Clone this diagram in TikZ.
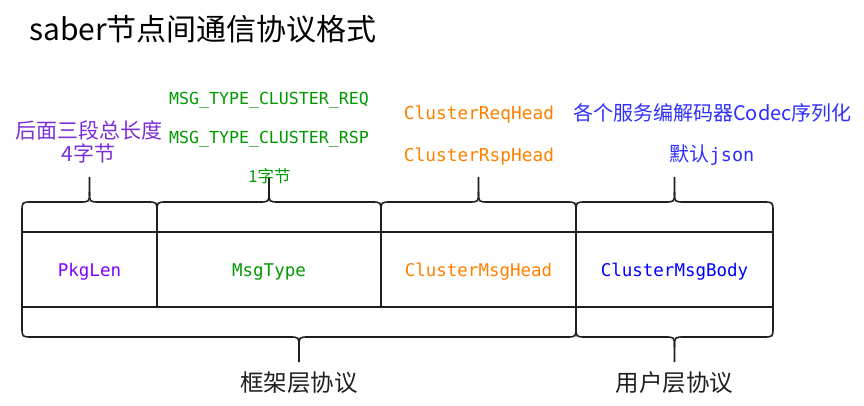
\documentclass[tikz,border=0pt]{standalone}
\usepackage{fontspec}
\setmainfont{Noto Sans CJK SC}
\setmonofont{DejaVu Sans Mono}
\definecolor{cpurple}{HTML}{8000FF}
\definecolor{cpurpletop}{HTML}{7B2FD9}
\definecolor{cgreen}{HTML}{009900}
\definecolor{corange}{HTML}{FF8000}
\definecolor{cblue}{HTML}{0000FF}
\definecolor{cbluetop}{HTML}{2E2EFF}
\definecolor{cline}{HTML}{1F1F1F}
\newcommand\fsz[1]{\fontsize{#1}{#1}\selectfont}
% top brace: left x, right x, tip x
\newcommand\mytopbrace[3]{%
  \draw[bracestyle] (#1,232) -- (#1,212) .. controls (#1,202) .. (#1+10,202) -- (#3-10,202) .. controls (#3,202) .. (#3,192) -- (#3,177);
  \draw[bracestyle] (#2,232) -- (#2,212) .. controls (#2,202) .. (#2-10,202) -- (#3+10,202) .. controls (#3,202) .. (#3,192);}
% bottom brace: left x, right x, tip x
\newcommand\mybottombrace[3]{%
  \draw[bracestyle] (#1,307) -- (#1,327) .. controls (#1,337) .. (#1+10,337) -- (#3-10,337) .. controls (#3,337) .. (#3,347) -- (#3,362);
  \draw[bracestyle] (#2,307) -- (#2,327) .. controls (#2,337) .. (#2-10,337) -- (#3+10,337) .. controls (#3,337) .. (#3,347);}
\begin{document}
\begin{tikzpicture}[x=1pt,y=-1pt,
  cell/.style={draw=cline, line width=1.6pt, minimum height=75pt, inner sep=0pt,
    text height=14.4pt, text depth=0pt, font=\ttfamily\fsz{17.5}},
  lbl/.style={anchor=base, inner sep=0pt},
  bracestyle/.style={draw=cline, line width=1.6pt}]
\useasboundingbox (0,0) rectangle (864,406);

% braces
\mytopbrace{22}{157}{89.5}
\mytopbrace{157}{381}{269}
\mytopbrace{381}{576}{478.5}
\mytopbrace{576}{773}{674.5}
\mybottombrace{22}{576}{299}
\mybottombrace{576}{773}{674.5}

% cells
\node[cell, minimum width=135pt, text=cpurple] (pkg) at (89.5,269.5) {PkgLen};
\node[cell, minimum width=224pt, text=cgreen] (type) at (269,269.5) {MsgType};
\node[cell, minimum width=195pt, text=corange] (head) at (478.5,269.5) {ClusterMsgHead};
\node[cell, minimum width=197pt, text=cblue] (body) at (674.5,269.5) {ClusterMsgBody};

% title
\node[anchor=base west, inner sep=0pt, font=\fsz{30}] (title) at (29,40.5) {saber节点间通信协议格式};

% top labels
\node[lbl, font=\fsz{21}, text=cpurpletop] (len1) at (89,139) {后面三段总长度};
\node[lbl, font=\fsz{21}, text=cpurpletop] (len2) at (88.5,162) {4字节};
\node[lbl, font=\ttfamily\fsz{16.6}, text=cgreen] (req) at (269,105) {MSG\_TYPE\_CLUSTER\_REQ};
\node[lbl, font=\ttfamily\fsz{16.6}, text=cgreen] (rsp) at (269,143.5) {MSG\_TYPE\_CLUSTER\_RSP};
\node[lbl, font=\fsz{16.5}, text=cgreen] (onebyte) at (269.5,182.5) {1字节};
\node[lbl, font=\ttfamily\fsz{17.8}, text=corange] (reqhead) at (479,120) {ClusterReqHead};
\node[lbl, font=\ttfamily\fsz{17.8}, text=corange] (rsphead) at (479,161.7) {ClusterRspHead};
\node[lbl, font=\fsz{20}, text=cbluetop] (codec) at (712.5,120.5) {各个服务编解码器Codec序列化};
\node[lbl, font=\fsz{20}, text=cbluetop] (json) at (712,162) {默认{\ttfamily\fsz{18.5}json}};

% bottom labels
\node[lbl, font=\fsz{23.5}, text=cline] (frame) at (299,391) {框架层协议};
\node[lbl, font=\fsz{23.5}, text=cline] (user) at (674.5,391) {用户层协议};
\end{tikzpicture}
\end{document}
